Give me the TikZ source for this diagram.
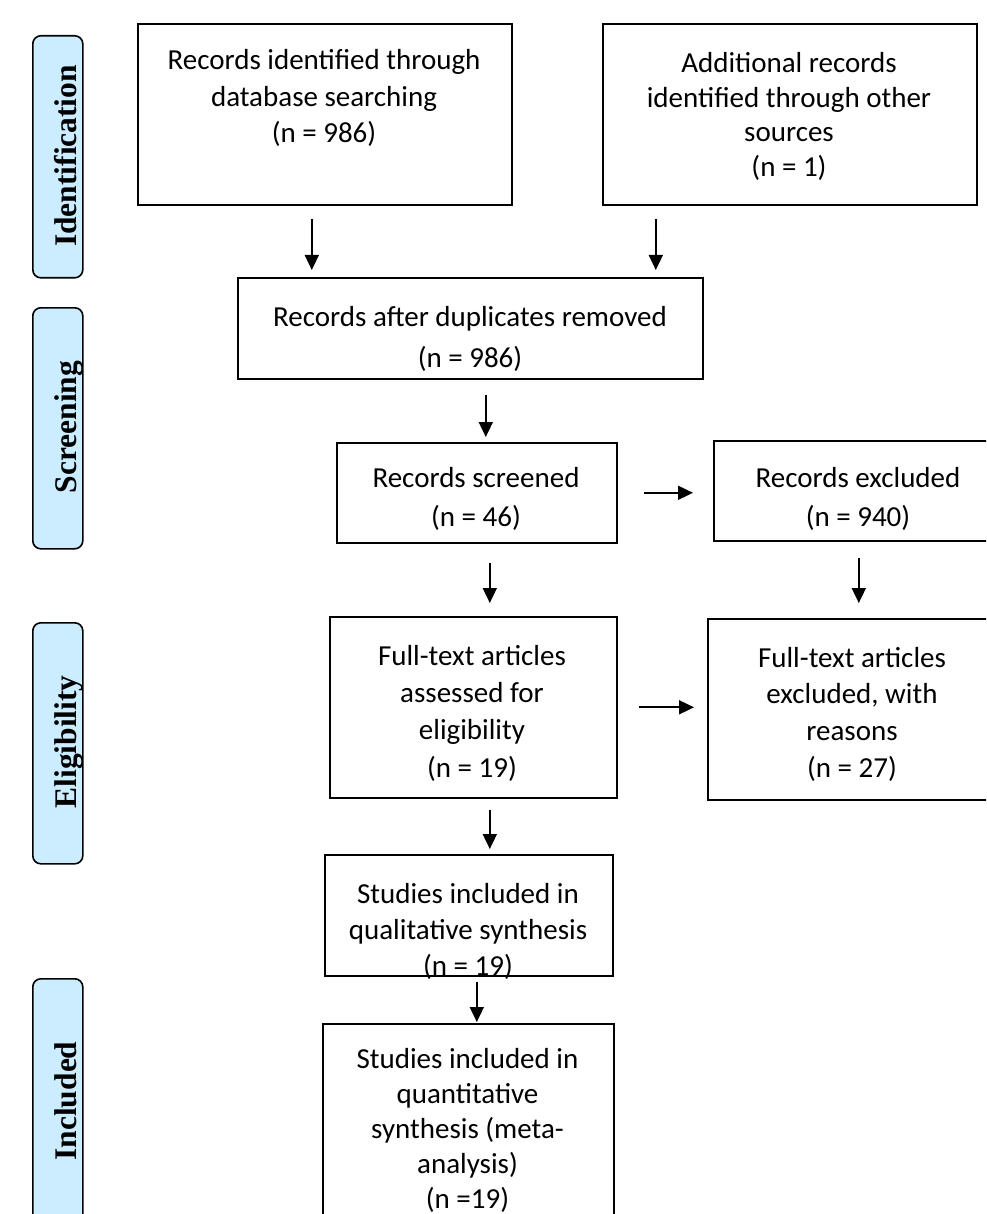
\documentclass[tikz,border=0pt]{standalone}
\usepackage{fontspec}
\setmainfont{Carlito}
\newfontfamily\labelfont{Liberation Serif}
\usetikzlibrary{arrows.meta}
\definecolor{phaseblue}{RGB}{204,236,255}
\begin{document}
\begin{tikzpicture}[x=1pt,y=-1pt,
  box/.style={draw=black, line width=1.6pt, rectangle, inner sep=0pt, anchor=north west},
  txt/.style={align=center, font=\fontsize{29}{#1}\selectfont, inner sep=0pt},
  txt/.default=36,
  phase/.style={draw=black, line width=1.6pt, fill=phaseblue, rounded corners=8pt, rectangle, inner sep=0pt, anchor=north west, minimum width=50pt},
  phasetxt/.style={rotate=90, anchor=base, font=\labelfont\bfseries\fontsize{31.5}{36}\selectfont, inner sep=0pt},
  arr/.style={line width=1.8pt, -{Triangle[length=15pt,width=14pt]}}
]
\useasboundingbox (0,0) rectangle (986,1214);
\clip (0,0) rectangle (986,1214);
\fill[white] (0,0) rectangle (986,1214);

% phase labels
\node[phase, minimum height=242pt] (p1) at (32,35) {};
\node[phase, minimum height=241pt] (p2) at (32,307) {};
\node[phase, minimum height=241pt] (p3) at (32,622) {};
\node[phase, minimum height=250pt] (p4) at (32,978) {};
\node[phasetxt] (l1) at (76,156) {Identification};
\node[phasetxt] (l2) at (76,427) {Screening};
\node[phasetxt] (l3) at (76,742) {Eligibility};
\node[phasetxt] (l4) at (76,1101) {Included};

% boxes
\node[box, minimum width=374pt, minimum height=181pt] (b1) at (137,23) {};
\node[box, minimum width=374pt, minimum height=181pt] (b2) at (602,23) {};
\node[box, minimum width=465pt, minimum height=101pt] (b3) at (237,277) {};
\node[box, minimum width=280pt, minimum height=100pt] (b4) at (336,442) {};
\node[box, minimum width=290pt, minimum height=100pt] (b5) at (713,440) {};
\node[box, minimum width=287pt, minimum height=181pt] (b6) at (329,616) {};
\node[box, minimum width=290pt, minimum height=181pt] (b7) at (707,618) {};
\node[box, minimum width=288pt, minimum height=121pt] (b8) at (324,854) {};
\node[box, minimum width=291pt, minimum height=240pt] (b9) at (322,1023) {};

% texts
\node[txt=36.5] (t1) at (324,98) {Records identified through\\database searching\\(n = 986)};
\node[txt=34.7] (t2) at (789,116.5) {Additional records\\identified through other\\sources\\(n = 1)};
\node[txt=41] (t3) at (470,338.5) {Records after duplicates removed\\(n = 986)};
\node[txt=39] (t4) at (476,499) {Records screened\\(n = 46)};
\node[txt=39] (t5) at (858,499) {Records excluded\\(n = 940)};
\node[txt=37.3] (t6) at (472,713) {Full-text articles\\assessed for\\eligibility\\(n = 19)};
\node[txt=36.7] (t7) at (852,714) {Full-text articles\\excluded, with\\reasons\\(n = 27)};
\node[txt=36] (t8) at (468,931.5) {Studies included in\\qualitative synthesis\\(n = 19)};
\node[txt=35] (t9) at (467.5,1130) {Studies included in\\quantitative\\synthesis (meta-\\analysis)\\(n =19)};

% arrows
\draw[arr, shorten <=13pt, shorten >=7pt] ([xshift=-13pt]b1.south) -- ([xshift=-13pt]b1.south |- b3.north);
\draw[arr, shorten <=13pt, shorten >=7pt] ([xshift=-134pt]b2.south) -- ([xshift=-134pt]b2.south |- b3.north);
\draw[arr, shorten <=15pt, shorten >=5pt] ([xshift=15.5pt]b3.south) -- ([xshift=15.5pt]b3.south |- b4.north);
\draw[arr, shorten <=26pt, shorten >=20pt] (b4.east) -- (b4.east -| b5.west);
\draw[arr, shorten <=19pt, shorten >=13pt] ([xshift=13pt]b4.south) -- ([xshift=13pt]b4.south |- b6.north);
\draw[arr, shorten <=16pt, shorten >=15pt] (b5.south) -- (b5.south |- b7.north);
\draw[arr, shorten <=21pt, shorten >=13pt] (b6.east) -- (b6.east -| b7.west);
\draw[arr, shorten <=11pt, shorten >=5pt] ([xshift=16.5pt]b6.south) -- ([xshift=16.5pt]b6.south |- b8.north);
\draw[arr, shorten <=5pt, shorten >=1pt] ([xshift=8pt]b8.south) -- ([xshift=8pt]b8.south |- b9.north);
\end{tikzpicture}
\end{document}
